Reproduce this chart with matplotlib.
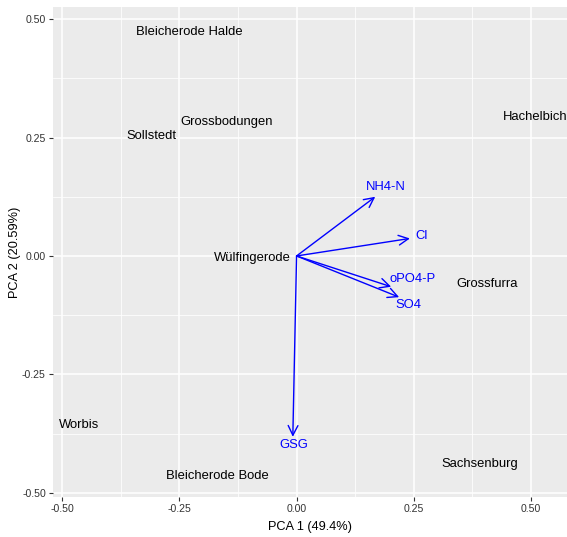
import matplotlib.pyplot as plt
from matplotlib.patches import FancyArrowPatch
from matplotlib.ticker import MultipleLocator

plt.rcParams['font.family'] = ['Liberation Sans', 'DejaVu Sans']

# site scores (PCA 1, PCA 2)
sites = ['Bleicherode Halde', 'Grossbodungen', 'Sollstedt', 'Hachelbich',
         'Wülfingerode', 'Grossfurra', 'Worbis', 'Bleicherode Bode', 'Sachsenburg']
site_x = [-0.229, -0.149, -0.311, 0.509, -0.095, 0.407, -0.464, -0.170, 0.391]
site_y = [0.473, 0.283, 0.254, 0.294, -0.005, -0.059, -0.357, -0.464, -0.440]

# variable loadings and where their labels sit
variables = ['NH4-N', 'Cl', 'oPO4-P', 'SO4', 'GSG']
load_x = [0.168, 0.242, 0.202, 0.219, -0.008]
load_y = [0.125, 0.037, -0.065, -0.087, -0.382]
lab_x = [0.191, 0.266, 0.248, 0.239, -0.006]
lab_y = [0.145, 0.042, -0.048, -0.103, -0.399]

ticks = [-0.50, -0.25, 0.00, 0.25, 0.50]
tick_labels = ['-0.50', '-0.25', '0.00', '0.25', '0.50']

fig = plt.figure(figsize=(5.67, 5.37), dpi=100)
ax = fig.add_axes([0.093, 0.075, 0.907, 0.9115])
ax.set_facecolor('#EBEBEB')
ax.set_xlim(-0.5207, 0.5775)
ax.set_ylim(-0.5085, 0.5253)

ax.set_xticks(ticks)
ax.set_xticklabels(tick_labels)
ax.set_yticks(ticks)
ax.set_yticklabels(tick_labels)
ax.xaxis.set_minor_locator(MultipleLocator(0.125))
ax.yaxis.set_minor_locator(MultipleLocator(0.125))
ax.grid(which='major', color='white', linewidth=1.1)
ax.grid(which='minor', color='white', linewidth=0.55)
ax.set_axisbelow(True)
for s in ax.spines.values():
    s.set_visible(False)
ax.tick_params(which='major', length=3, width=0.8, color='#333333',
               labelsize=7.6, labelcolor='#333333', pad=2)
ax.tick_params(which='minor', length=0)

ax.set_xlabel('PCA 1 (49.4%)', fontsize=9.2, labelpad=5)
ax.set_ylabel('PCA 2 (20.59%)', fontsize=9.2, labelpad=1)

for name, x, y in zip(sites, site_x, site_y):
    ax.text(x, y, name, ha='center', va='center', fontsize=9.4, color='black')

for name, x, y, lx, ly in zip(variables, load_x, load_y, lab_x, lab_y):
    arr = FancyArrowPatch((0, 0), (x, y), arrowstyle='->,head_length=0.7,head_width=0.35',
                          mutation_scale=10, color='blue', linewidth=1.0,
                          shrinkA=0, shrinkB=0)
    ax.add_patch(arr)
    ax.text(lx, ly, name, ha='center', va='center', fontsize=9.4, color='blue')

fig.savefig('out.png', dpi=100)
